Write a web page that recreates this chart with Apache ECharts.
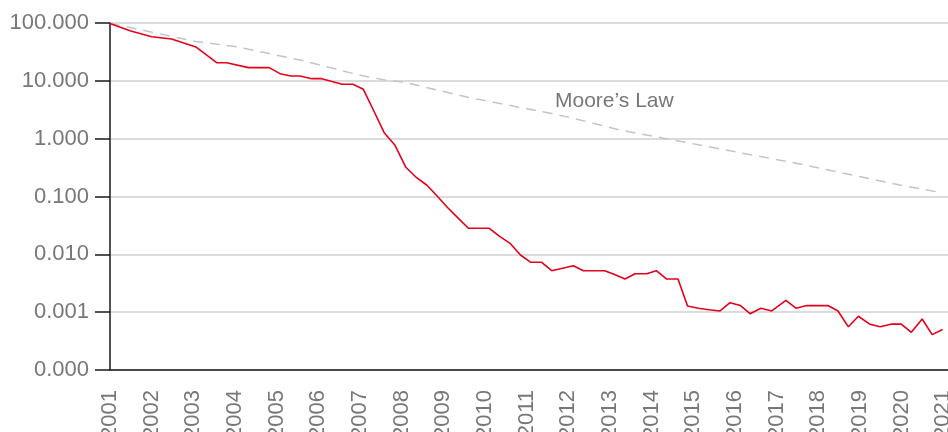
<!DOCTYPE html>
<html>
<head>
<meta charset="utf-8">
<script src="https://cdn.jsdelivr.net/npm/echarts@6/dist/echarts.min.js"></script>
<style>
  html, body { margin: 0; padding: 0; background: #fff; }
  #main { width: 948px; height: 432px; }
</style>
</head>
<body>
<div id="main"></div>
<script>
// cost per genome (millions, log scale)
var costYears = [2001.00, 2001.48, 2002.00, 2002.48, 2003.06, 2003.56, 2003.80, 2004.32, 2004.82,
  2005.08, 2005.34, 2005.56, 2005.84, 2006.08, 2006.57, 2006.83, 2007.08, 2007.32, 2007.58, 2007.84,
  2008.10, 2008.34, 2008.60, 2008.85, 2009.10, 2009.32, 2009.60, 2009.85, 2010.10, 2010.36, 2010.60,
  2010.85, 2011.10, 2011.36, 2011.60, 2012.12, 2012.36, 2012.62, 2012.87, 2013.08, 2013.36, 2013.60,
  2013.88, 2014.11, 2014.36, 2014.63, 2014.86, 2015.12, 2015.37, 2015.64, 2015.88, 2016.13, 2016.36,
  2016.62, 2016.88, 2017.22, 2017.46, 2017.72, 2017.97, 2018.23, 2018.47, 2018.72, 2018.96, 2019.24,
  2019.48, 2019.74, 2019.99, 2020.23, 2020.49, 2020.73, 2020.98];
var costValues = [98, 73.6, 58.0, 52.9, 38.5, 20.6, 20.6, 16.9, 16.9,
  13.3, 12.1, 12.1, 10.9, 10.9, 8.71, 8.71, 7.14, 3.13, 1.27, 0.767,
  0.320, 0.217, 0.158, 0.102, 0.0645, 0.0448, 0.0282, 0.0282, 0.0282, 0.0202, 0.0155,
  0.00973, 0.00728, 0.00728, 0.00521, 0.00636, 0.00521, 0.00521, 0.00521, 0.00457, 0.00374, 0.00462,
  0.00462, 0.00521, 0.00374, 0.00374, 0.00128, 0.00117, 0.00110, 0.00105, 0.00146, 0.00130, 0.00094,
  0.00117, 0.00105, 0.00160, 0.00117, 0.00130, 0.00130, 0.00130, 0.00105, 0.000558, 0.000851, 0.000617,
  0.000558, 0.000620, 0.000620, 0.000448, 0.000762, 0.000409, 0.000501];

// Moore's Law reference line
var mooreYears = [2001.00, 2003.06, 2004.07, 2005.56, 2007.08, 2007.68, 2008.04, 2009.59, 2011.56,
  2012.12, 2013.24, 2014.52, 2015.56, 2017.56, 2019.96, 2020.96];
var mooreValues = [98.8, 47.9, 38.5, 22.9, 12.1, 10.1, 9.55, 5.19, 2.75,
  2.25, 1.41, 0.948, 0.681, 0.365, 0.158, 0.116];

var chart = echarts.init(document.getElementById('main'), null, { renderer: 'canvas' });

function pairs(xs, ys) {
  var out = [];
  for (var i = 0; i < xs.length; i++) out.push([xs[i], ys[i]]);
  return out;
}

var fontFam = '"Liberation Sans", Arial, sans-serif';

var option = {
  animation: false,
  backgroundColor: '#fff',
  grid: { left: 110, top: 23, right: 0, bottom: 62, containLabel: false, outerBoundsMode: 'none' },
  xAxis: {
    type: 'value',
    min: 2001,
    max: 2021.11,
    interval: 1,
    axisLine: { lineStyle: { color: '#1a1a1a', width: 1.5 } },
    axisTick: { show: false },
    splitLine: { show: false },
    axisLabel: {
      rotate: 90,
      margin: 20,
      color: '#777',
      fontSize: 22,
      fontFamily: fontFam,
      hideOverlap: false,
      formatter: function (v) { return Math.abs(v - Math.round(v)) < 1e-6 ? String(Math.round(v)) : ''; }
    }
  },
  yAxis: {
    type: 'log',
    logBase: 10,
    min: 0.0001,
    max: 100,
    splitNumber: 6,
    axisLine: { show: true, lineStyle: { color: '#1a1a1a', width: 1.5 } },
    axisTick: { show: true, length: 15, lineStyle: { color: '#1a1a1a', width: 1.5 } },
    splitLine: { show: true, lineStyle: { color: '#cfcfcf', width: 1.5 } },
    axisLabel: {
      margin: 21,
      color: '#777',
      fontSize: 22,
      fontFamily: fontFam,
      formatter: function (v) { return v.toFixed(3); }
    }
  },
  graphic: [{
    type: 'text',
    left: 555,
    top: 91,
    style: { text: 'Moore\u2019s Law', fill: '#777', font: '21px ' + fontFam }
  }],
  series: [{
    name: "Moore's Law",
    type: 'line',
    data: pairs(mooreYears, mooreValues),
    showSymbol: false,
    lineStyle: { color: '#c4c4c4', width: 1.5, type: [10, 7] },
    z: 2
  }, {
    name: 'Cost',
    type: 'line',
    data: pairs(costYears, costValues),
    showSymbol: false,
    lineStyle: { color: '#e3001b', width: 1.6 },
    z: 3
  }]
};

chart.setOption(option);
</script>
</body>
</html>
